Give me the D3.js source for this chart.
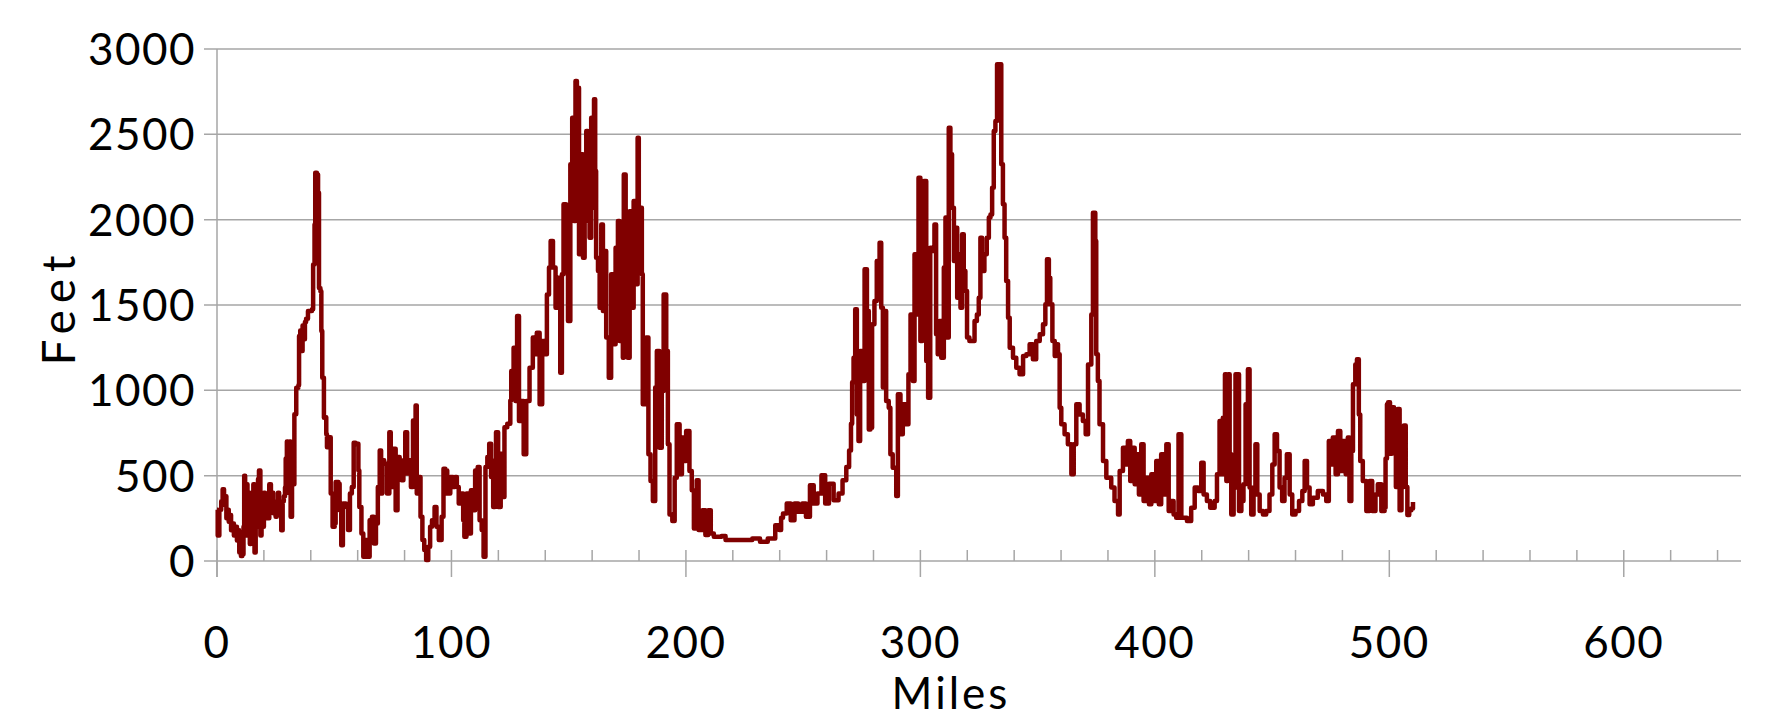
<!DOCTYPE html>
<html>
<head>
<meta charset="utf-8">
<script src="https://cdn.jsdelivr.net/npm/d3@7"></script>
<style>
  body { margin: 0; background: #fff; }
  text { font-family: Lato, "Open Sans", sans-serif; fill: #000; }
</style>
</head>
<body>
<div id="root"></div>
<script>
// elevation profile
var miles = [0, 0.3, 1, 1.8, 2.4, 3, 3.5, 4, 4.5, 5, 5.5, 6, 6.7, 7.2, 7.8, 8.5, 9, 9.5, 10.2, 10.8,
  11.3, 11.6, 12, 12.5, 13, 13.5, 14, 14.5, 15, 15.5, 16, 16.5, 17, 17.5, 17.9, 18.5, 19, 19.5, 20, 20.5,
  21, 21.5, 22.3, 23, 23.5, 24, 24.5, 25, 25.5, 26, 26.5, 27.4, 28, 28.5, 29, 29.3, 29.8, 30.3, 31, 31.4,
  32, 33, 33.8, 34.7, 35, 35.5, 36, 36.5, 37, 37.5, 38, 38.8, 40.5, 41, 41.6, 41.9, 42.6, 43.1, 43.5, 44.1,
  44.5, 44.9, 45.6, 46.1, 46.6, 46.9, 47.7, 48.5, 49.3, 50.2, 50.6, 51.8, 52.3, 53, 53.7, 55, 55.9, 56.7, 57.5, 58.3,
  59.1, 59.6, 60.3, 60.7, 61.6, 62.4, 63.2, 64.3, 65.1, 66.1, 66.9, 67.8, 68.6, 69.4, 70, 70.5, 71.3, 72.5, 73.5, 74.1,
  75.1, 76.2, 77, 77.9, 78.7, 79.5, 80.3, 81.1, 81.9, 82.7, 83.6, 84.2, 84.7, 85.2, 86, 86.8, 87.6, 88.4, 89.2, 90.1,
  90.9, 91.7, 92.8, 93.6, 94.6, 95.8, 96.6, 97.4, 98.2, 99.5, 100.7, 101.5, 102.3, 103.1, 103.9, 105, 105.5, 106.4, 107.2, 108.3,
  109.3, 110.1, 111.2, 112, 112.9, 113.7, 114.5, 115.3, 116.1, 116.9, 117.8, 118.6, 119, 119.9, 121, 121.8, 122.6, 123.8, 125.1, 125.5,
  126.5, 127.3, 128, 128.8, 129.8, 130.8, 131.9, 133.3, 134.7, 135.4, 136.4, 137.6, 138.7, 139.7, 140.7, 141.6, 142.3, 143.3, 144.4, 145.4,
  146.4, 147.1, 147.8, 148.9, 149.7, 150.7, 151.5, 152.2, 152.9, 153.5, 154.4, 155.1, 156.1, 156.8, 157.5, 158.2, 158.9, 159.6, 160.3, 160.8,
  161.3, 161.7, 162.5, 163.2, 163.9, 164.6, 165.3, 166, 167.1, 168.1, 169.1, 170, 171, 171.7, 172.4, 173.1, 173.5, 174.3, 175.2, 176,
  176.9, 177.7, 178.5, 179.4, 179.9, 180.5, 181.2, 181.6, 182.4, 183, 184, 184.9, 185.9, 186.9, 187.6, 188.7, 189.7, 190.5, 191.6, 192.3,
  193, 194.2, 195.2, 196.1, 197.3, 198.3, 199.4, 200.1, 201.5, 202.5, 203.4, 204.6, 205.4, 207, 208.3, 209.5, 210.6, 211.9, 215.2, 216.9,
  226.7, 228.3, 231.6, 234.9, 238.1, 239.8, 240.6, 241.4, 243, 244.7, 246.3, 247.9, 249.6, 251.2, 252.9, 254.5, 256.1, 257.8, 259.4, 261,
  263, 265.1, 266.8, 268.4, 269.6, 270.4, 270.9, 271.5, 272.2, 272.9, 273.6, 274.3, 275.5, 276.2, 277.2, 278, 278.7, 279.4, 280.4, 281.4,
  282.6, 283.3, 284, 284.8, 285.4, 286.5, 287.2, 288.2, 289.7, 290.4, 291.5, 292.5, 293.9, 294.9, 295.8, 296.8, 297.5, 298.2, 299.2, 300,
  300.8, 301.5, 302.5, 303.3, 304.2, 305, 306, 306.7, 307.4, 308.1, 308.9, 310, 310.7, 311.4, 312.1, 312.8, 313.5, 314.3, 315, 315.7,
  316.4, 317.1, 317.8, 318.5, 319.2, 319.9, 320.9, 322.1, 323.1, 324.1, 324.9, 325.6, 326.3, 327.3, 328.3, 329.2, 329.9, 330.6, 331.3, 332,
  332.7, 333.4, 333.8, 334.5, 335.2, 335.9, 336.6, 337.4, 338.1, 339.5, 340.9, 342.3, 343.8, 345.2, 346.6, 348, 349.4, 350.9, 352.3, 353.3,
  354, 354.8, 355.4, 356.3, 357.3, 357.9, 358.7, 359.4, 360.1, 361.5, 362.9, 364.4, 365.4, 366.5, 367.9, 369.3, 370.5, 371.5, 372.9, 373.6,
  374.6, 375, 375.7, 376.4, 377.9, 379.3, 381.4, 382.8, 384.3, 385, 386.4, 387.5, 388.5, 389.5, 390.4, 391.4, 392.4, 393.2, 394.2, 395.2,
  396.3, 397.5, 398.5, 399.5, 400.6, 401.7, 402.7, 403.7, 404.9, 405.9, 407, 408, 409.1, 410.1, 411.3, 412.4, 413.7, 415.5, 417, 418.4,
  419.8, 420.8, 422.2, 423.6, 425.5, 426.5, 427.6, 428.3, 429, 429.9, 430.5, 431.2, 431.9, 432.6, 433.6, 434.4, 435.1, 435.9, 436.9, 437.8,
  438.7, 439.7, 440.4, 441.1, 442.1, 442.9, 443.7, 444.7, 446.1, 447.5, 448.9, 450.1, 451.1, 452.1, 453.2, 454.3, 455.3, 456.3, 457.5, 458.6,
  460, 461.5, 462.9, 463.9, 464.9, 466, 467.4, 469.5, 471.7, 473.1, 474.2, 475.2, 475.9, 477.1, 478.1, 479.1, 480.2, 481.4, 482.3, 483,
  483.8, 484.5, 485.5, 486.2, 487, 487.6, 488.7, 490.2, 491.6, 492.7, 494.1, 495.1, 496.6, 498, 498.4, 499, 499.5, 500.3, 501.1, 502,
  502.8, 503.6, 504.4, 505.2, 506.2, 507, 507.7, 508.5, 509.4, 510.1];

var feet = [300, 150, 300, 350, 420, 330, 380, 250, 300, 230, 270, 180, 220, 150, 200, 120, 180, 50, 30, 40,
  200, 500, 150, 450, 250, 400, 100, 350, 200, 450, 50, 300, 200, 480, 530, 150, 350, 200, 400, 250,
  300, 250, 450, 350, 400, 280, 320, 260, 350, 400, 300, 180, 350, 380, 430, 600, 700, 400, 700, 260,
  450, 860, 1015, 1030, 1318, 1350, 1230, 1380, 1300, 1400, 1420, 1465, 1475, 1738, 1972, 2275, 2265, 2158, 1600, 1580,
  1347, 1074, 840, 843, 742, 667, 725, 395, 200, 220, 463, 453, 298, 93, 337, 317, 181, 395, 434, 693,
  684, 687, 531, 317, 161, 25, 123, 25, 239, 259, 103, 220, 434, 648, 395, 590, 570, 395, 755, 434,
  658, 298, 609, 551, 473, 590, 755, 512, 590, 434, 823, 600, 911, 395, 492, 259, 123, 64, 6, 84,
  200, 239, 317, 200, 123, 259, 541, 531, 395, 492, 434, 492, 434, 337, 395, 239, 142, 395, 161, 414,
  298, 531, 551, 239, 181, 25, 551, 609, 687, 492, 317, 590, 755, 317, 629, 375, 784, 804, 940, 1113,
  1250, 937, 1435, 820, 937, 625, 937, 1133, 1309, 1211, 1338, 918, 1289, 1211, 1562, 1719, 1875, 1719, 1484, 1660,
  1103, 1680, 2090, 1933, 1406, 2324, 2597, 1992, 2812, 2773, 1797, 2383, 1777, 2343, 2519, 1992, 1894, 2597, 2070, 2705,
  2285, 1777, 1699, 1484, 1972, 1465, 1816, 1309, 1074, 1680, 1270, 1836, 1992, 1289, 1836, 1191, 2265, 1797, 1191, 2050,
  1484, 2109, 1621, 2480, 1797, 2070, 1680, 918, 1016, 1309, 625, 469, 352, 1016, 1230, 664, 996, 1562, 1230, 684,
  273, 234, 488, 801, 508, 723, 586, 762, 527, 414, 191, 473, 181, 298, 152, 298, 161, 142, 146, 123,
  123, 132, 113, 132, 210, 181, 254, 278, 337, 239, 337, 288, 337, 259, 444, 337, 395, 502, 337, 453,
  356, 395, 473, 551, 648, 804, 1047, 1191, 1475, 859, 703, 1230, 1055, 1709, 1465, 771, 781, 1387, 1523, 1758,
  1865, 1484, 1016, 1465, 937, 898, 625, 547, 381, 977, 742, 918, 801, 1094, 1445, 1055, 1797, 1445, 2246, 1289,
  1367, 2226, 1172, 957, 1836, 1816, 1972, 1328, 1211, 1406, 1191, 1719, 2012, 1309, 2539, 2383, 2070, 1758, 1953, 1543,
  1797, 1484, 1914, 1699, 1582, 1309, 1289, 1289, 1406, 1445, 1543, 1894, 1699, 1797, 1894, 2012, 2031, 2187, 2519, 2578,
  2910, 2600, 2910, 2324, 2090, 1894, 1640, 1426, 1250, 1191, 1133, 1094, 1201, 1211, 1270, 1182, 1289, 1328, 1387, 1504,
  1768, 1660, 1504, 1289, 1201, 1270, 1211, 898, 801, 742, 684, 508, 684, 918, 859, 820, 742, 1152, 1445, 2041,
  1875, 1211, 1055, 801, 586, 488, 430, 352, 273, 527, 664, 566, 703, 469, 664, 449, 625, 390, 684, 352,
  488, 332, 508, 352, 586, 332, 625, 390, 684, 293, 352, 273, 254, 742, 254, 254, 234, 312, 430, 410,
  576, 390, 352, 312, 352, 508, 820, 508, 840, 1094, 469, 1094, 625, 273, 430, 1094, 1094, 293, 352, 449,
  918, 1123, 430, 273, 430, 684, 390, 293, 273, 293, 390, 566, 742, 644, 430, 352, 488, 625, 390, 273,
  293, 352, 410, 586, 430, 332, 371, 410, 390, 352, 703, 566, 723, 508, 762, 527, 703, 508, 723, 352,
  644, 1035, 1152, 1182, 859, 586, 469, 293, 469, 293, 390, 449, 293, 312, 600, 918, 930, 629, 901, 881,
  434, 891, 298, 434, 794, 434, 269, 298, 307, 346];

var yTicks = [0, 500, 1000, 1500, 2000, 2500, 3000];
var xTicks = [0, 100, 200, 300, 400, 500, 600];
var xMinor = d3.range(0, 650, 20);

var data = miles.map(function (m, i) { return { mile: m, feet: feet[i] }; });

// sizes
var svgWidth = 1775;
var svgHeight = 720;
var margin = { top: 49, bottom: 159, left: 217, right: 34 };

var x = d3.scaleLinear()
  .domain([0, 650])
  .range([margin.left, svgWidth - margin.right]);
var y = d3.scaleLinear()
  .domain([0, 3000])
  .range([svgHeight - margin.bottom, margin.top]);

var svg = d3.select('#root')
  .append("svg").attr("width", svgWidth).attr("height", svgHeight);

var grey = "#a6a6a6";

// horizontal grid lines, they stick out a bit left of the axis
svg.append("g")
  .selectAll("line")
  .data(yTicks)
  .enter()
  .append("line")
  .attr("x1", x(0) - 13)
  .attr("x2", x(650))
  .attr("y1", d => y(d))
  .attr("y2", d => y(d))
  .attr("stroke", grey)
  .attr("stroke-width", 1.5);

// vertical axis line
svg.append("line")
  .attr("x1", x(0)).attr("x2", x(0))
  .attr("y1", y(3000)).attr("y2", y(0) + 16)
  .attr("stroke", grey)
  .attr("stroke-width", 1.5);

// x axis: minor ticks inside, major ticks crossing
svg.append("g")
  .selectAll("line")
  .data(xMinor)
  .enter()
  .append("line")
  .attr("x1", d => x(d))
  .attr("x2", d => x(d))
  .attr("y1", y(0) - 11)
  .attr("y2", d => d % 100 === 0 ? y(0) + 16 : y(0))
  .attr("stroke", grey)
  .attr("stroke-width", 1.5);

// y tick labels
svg.append("g")
  .selectAll("text")
  .data(yTicks)
  .enter()
  .append("text")
  .attr("x", 196)
  .attr("y", d => y(d))
  .attr("dy", "0.36em")
  .attr("text-anchor", "end")
  .attr("font-size", "44px")
  .attr("letter-spacing", "1.5px")
  .text(d => d);

// x tick labels
svg.append("g")
  .selectAll("text")
  .data(xTicks)
  .enter()
  .append("text")
  .attr("x", d => x(d))
  .attr("y", 658)
  .attr("text-anchor", "middle")
  .attr("font-size", "44px")
  .attr("letter-spacing", "1.5px")
  .text(d => d);

// axis titles
svg.append("text")
  .attr("x", 951)
  .attr("y", 709)
  .attr("text-anchor", "middle")
  .attr("font-size", "44px")
  .attr("letter-spacing", "3px")
  .text("Miles");

svg.append("text")
  .attr("transform", "translate(75,307) rotate(-90)")
  .attr("text-anchor", "middle")
  .attr("font-size", "46px")
  .attr("letter-spacing", "7px")
  .text("Feet");

// the profile line, stepped like the dense source data
var line = d3.line()
  .x(d => x(d.mile))
  .y(d => y(d.feet))
  .curve(d3.curveStepAfter);

svg.append("path")
  .datum(data)
  .attr("fill", "none")
  .attr("stroke", "#800000")
  .attr("stroke-width", 4.5)
  .attr("stroke-linejoin", "round")
  .attr("d", line);
</script>
</body>
</html>
